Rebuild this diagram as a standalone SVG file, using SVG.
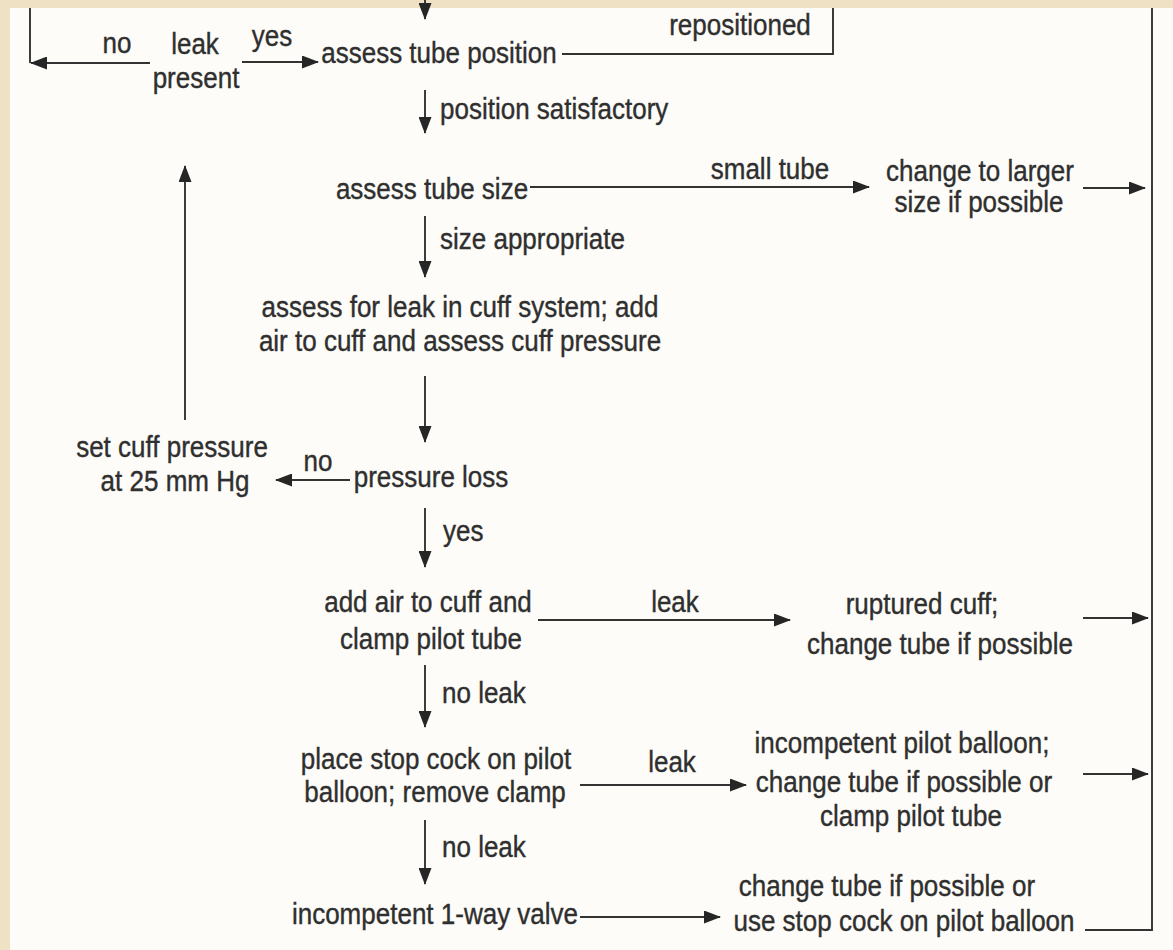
<svg xmlns="http://www.w3.org/2000/svg" width="1173" height="950" viewBox="0 0 1173 950">
<defs>
<marker id="ah" markerUnits="userSpaceOnUse" markerWidth="17" markerHeight="13" refX="16" refY="6.5" orient="auto">
<path d="M0,0 L17,6.5 L0,13 z" fill="#262626"/>
</marker>
<style>
text{font-family:"Liberation Sans",Arial,sans-serif;font-size:26px;fill:#2f2f2f;stroke:#2f2f2f;stroke-width:0.35;text-anchor:middle}
.l{text-anchor:start}
.c{fill:none;stroke:#333;stroke-width:1.9}
.a{marker-end:url(#ah)}
</style>
</defs>
<rect width="1173" height="950" fill="#efe1c3"/>
<rect x="10" y="8" width="1163" height="942" fill="#fdfcf8"/>
<g id="connectors">
<path class="c a" d="M425,0 V19"/>
<path class="c" d="M30,8 V63"/>
<path class="c a" d="M150,63 H31"/>
<path class="c a" d="M242,62 H318"/>
<path class="c" d="M562,54 H833 V8"/>
<path class="c a" d="M425,90 V133"/>
<path class="c a" d="M530,187 H869"/>
<path class="c a" d="M1083,188 H1145"/>
<path class="c a" d="M425,216 V277"/>
<path class="c a" d="M425,376 V442"/>
<path class="c a" d="M350,480 H276"/>
<path class="c a" d="M185,420 V166"/>
<path class="c a" d="M425,508 V567"/>
<path class="c a" d="M538,620 H790"/>
<path class="c a" d="M1083,618 H1148"/>
<path class="c a" d="M425,665 V727"/>
<path class="c a" d="M580,785 H746"/>
<path class="c a" d="M1083,774 H1148"/>
<path class="c a" d="M425,820 V884"/>
<path class="c a" d="M580,917 H720"/>
<path class="c" d="M1085,930 H1152 V8"/>
</g>
<g id="labels">
<text x="117" y="53" transform="matrix(1 0 0 1.1 0 -5.3)">no</text>
<text x="272" y="46" transform="matrix(1 0 0 1.1 0 -4.6)">yes</text>
<text x="740" y="35" transform="matrix(1 0 0 1.1 0 -3.5)">repositioned</text>
<text class="l" x="440" y="119" transform="matrix(1 0 0 1.1 0 -11.9)">position satisfactory</text>
<text x="770" y="179" transform="matrix(1 0 0 1.1 0 -17.9)">small tube</text>
<text class="l" x="440" y="249" transform="matrix(1 0 0 1.1 0 -24.9)">size appropriate</text>
<text x="318" y="471" transform="matrix(1 0 0 1.1 0 -47.1)">no</text>
<text class="l" x="443" y="541" transform="matrix(1 0 0 1.1 0 -54.1)">yes</text>
<text x="675" y="612" transform="matrix(1 0 0 1.1 0 -61.2)">leak</text>
<text class="l" x="442" y="703" transform="matrix(1 0 0 1.1 0 -70.3)">no leak</text>
<text x="672" y="772" transform="matrix(1 0 0 1.1 0 -77.2)">leak</text>
<text class="l" x="442" y="857" transform="matrix(1 0 0 1.1 0 -85.7)">no leak</text>
</g>
<g id="n-leak"><text x="195" y="54" transform="matrix(1 0 0 1.1 0 -5.4)">leak</text><text x="196" y="88" transform="matrix(1 0 0 1.1 0 -8.8)">present</text></g>
<g id="n-position"><text x="439" y="63" transform="matrix(1 0 0 1.1 0 -6.3)">assess tube position</text></g>
<g id="n-size"><text x="432" y="199" transform="matrix(1 0 0 1.1 0 -19.9)">assess tube size</text></g>
<g id="n-larger"><text x="980" y="181" transform="matrix(1 0 0 1.1 0 -18.1)">change to larger</text><text x="979" y="212" transform="matrix(1 0 0 1.1 0 -21.2)">size if possible</text></g>
<g id="n-cuff"><text x="460" y="317" transform="matrix(1 0 0 1.1 0 -31.7)">assess for leak in cuff system; add</text><text x="460" y="351" transform="matrix(1 0 0 1.1 0 -35.1)">air to cuff and assess cuff pressure</text></g>
<g id="n-loss"><text x="431" y="487" transform="matrix(1 0 0 1.1 0 -48.7)">pressure loss</text></g>
<g id="n-set"><text x="172" y="457" transform="matrix(1 0 0 1.1 0 -45.7)">set cuff pressure</text><text x="175" y="491" transform="matrix(1 0 0 1.1 0 -49.1)">at 25 mm Hg</text></g>
<g id="n-clamp"><text x="428" y="612" transform="matrix(1 0 0 1.1 0 -61.2)">add air to cuff and</text><text x="431" y="649" transform="matrix(1 0 0 1.1 0 -64.9)">clamp pilot tube</text></g>
<g id="n-ruptured"><text x="922" y="614" transform="matrix(1 0 0 1.1 0 -61.4)">ruptured cuff;</text><text x="940" y="654" transform="matrix(1 0 0 1.1 0 -65.4)">change tube if possible</text></g>
<g id="n-stopcock"><text x="436" y="769" transform="matrix(1 0 0 1.1 0 -76.9)">place stop cock on pilot</text><text x="435" y="802" transform="matrix(1 0 0 1.1 0 -80.2)">balloon; remove clamp</text></g>
<g id="n-balloon"><text x="902" y="753" transform="matrix(1 0 0 1.1 0 -75.3)">incompetent pilot balloon;</text><text x="904" y="792" transform="matrix(1 0 0 1.1 0 -79.2)">change tube if possible or</text><text x="911" y="826" transform="matrix(1 0 0 1.1 0 -82.6)">clamp pilot tube</text></g>
<g id="n-valve"><text x="435" y="924" transform="matrix(1 0 0 1.1 0 -92.4)">incompetent 1-way valve</text></g>
<g id="n-stopuse"><text x="887" y="896" transform="matrix(1 0 0 1.1 0 -89.6)">change tube if possible or</text><text x="904" y="931" transform="matrix(1 0 0 1.1 0 -93.1)">use stop cock on pilot balloon</text></g>
</svg>
